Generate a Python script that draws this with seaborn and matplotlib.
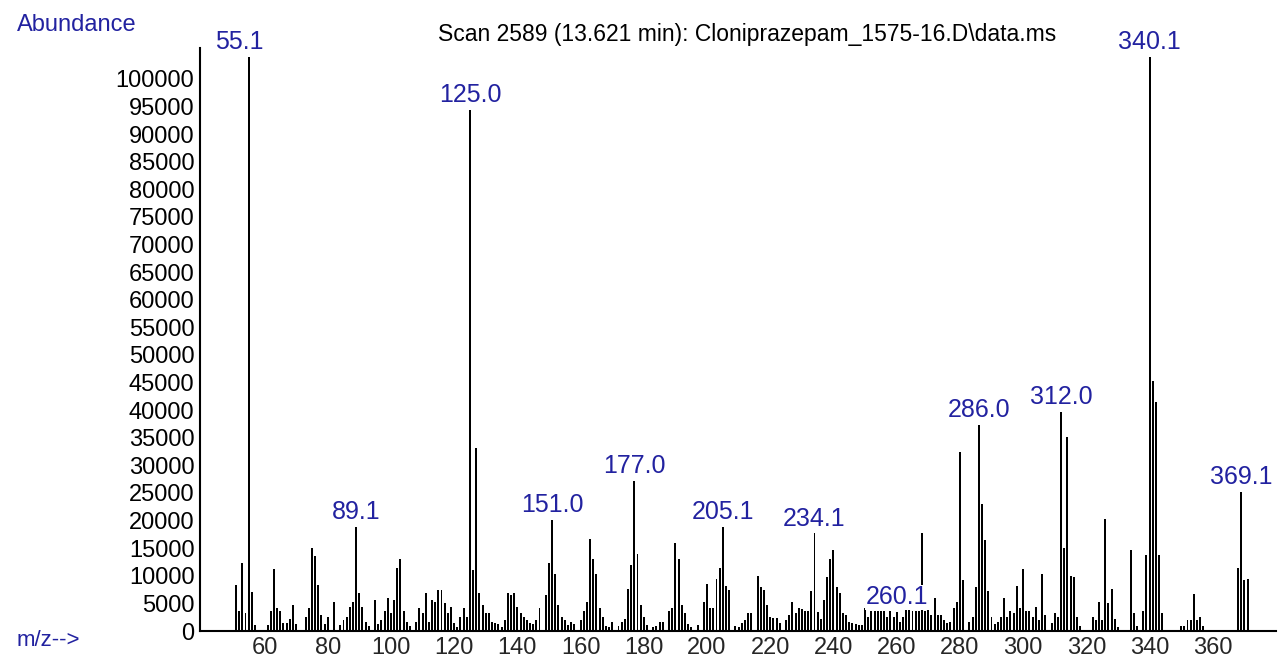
import matplotlib
matplotlib.use("Agg")
import matplotlib.pyplot as plt
import seaborn as sns
import pandas as pd

# m/z values and abundances
mz = [51, 52, 53, 54, 55, 56, 57, 61, 62, 63, 64, 65, 66, 67, 68, 69, 70, 73, 74, 75,
      76, 77, 78, 79, 80, 82, 84, 85, 86, 87, 88, 89, 90, 91, 92, 93, 95, 96, 97, 98,
      99, 100, 101, 102, 103, 104, 105, 106, 108, 109, 110, 111, 112, 113, 114, 115, 116, 117, 118, 119,
      120, 121, 122, 123, 124, 125, 126, 127, 128, 129, 130, 131, 132, 133, 134, 135, 136, 137, 138, 139,
      140, 141, 142, 143, 144, 145, 146, 147, 149, 150, 151, 152, 153, 154, 155, 156, 157, 158, 160, 161,
      162, 163, 164, 165, 166, 167, 168, 169, 170, 172, 173, 174, 175, 176, 177, 178, 179, 180, 181, 183,
      184, 185, 186, 188, 189, 190, 191, 192, 193, 194, 195, 197, 199, 200, 201, 202, 203, 204, 205, 206,
      207, 209, 210, 211, 212, 213, 214, 216, 217, 218, 219, 220, 221, 222, 223, 225, 226, 227, 228, 229,
      230, 231, 232, 233, 234, 235, 236, 237, 238, 239, 240, 241, 242, 243, 244, 245, 246, 247, 248, 249,
      250, 251, 252, 253, 254, 255, 256, 257, 258, 259, 260, 261, 262, 263, 264, 265, 266, 267, 268, 269,
      270, 271, 272, 273, 274, 275, 276, 277, 278, 279, 280, 281, 283, 284, 285, 286, 287, 288, 289, 290,
      291, 292, 293, 294, 295, 296, 297, 298, 299, 300, 301, 302, 303, 304, 305, 306, 307, 309, 310, 311,
      312, 313, 314, 315, 316, 317, 318, 322, 323, 324, 325, 326, 327, 328, 329, 330, 334, 335, 336, 338,
      339, 340, 341, 342, 343, 344, 350, 351, 352, 353, 354, 355, 356, 357, 368, 369, 370, 371]
abundance = [8300, 3600, 12300, 3200, 104000, 7100, 1000, 1000, 3700, 11200, 4100, 3600, 1400, 1400, 2100, 4800, 1300, 2500, 4100, 15000,
             13500, 8300, 2900, 1300, 2500, 5200, 1000, 2000, 2500, 4400, 5200, 18900, 6800, 4400, 1700, 900, 5600, 1300, 2000, 3700,
             5900, 3200, 5600, 11500, 13000, 3600, 1700, 900, 1700, 4100, 3200, 6800, 1700, 5600, 5300, 7500, 7400, 5000, 3200, 4400,
             1400, 800, 2500, 4100, 2600, 94400, 11000, 33200, 6800, 4700, 3200, 3200, 1700, 1400, 1300, 800, 2000, 6800, 6500, 6800,
             4400, 3200, 2500, 2000, 1400, 1300, 2000, 4100, 6500, 12400, 20100, 10300, 4700, 2600, 2000, 1100, 1700, 1300, 2000, 3600,
             5200, 16600, 13000, 10300, 4100, 2600, 900, 800, 1600, 900, 1700, 2100, 7600, 12000, 27200, 13900, 4800, 2600, 1000, 800,
             900, 1600, 1700, 3700, 4100, 15900, 13000, 4800, 3200, 1300, 700, 1100, 5200, 8500, 4100, 4100, 9500, 11500, 18900, 8100,
             7400, 900, 700, 1400, 2000, 3200, 3200, 10000, 8000, 7400, 4700, 2600, 2300, 2300, 1400, 2000, 2900, 5200, 3200, 4100,
             4000, 3700, 3600, 7200, 17700, 3500, 2100, 5600, 9800, 13000, 14700, 8000, 6800, 3200, 2900, 1700, 1400, 1300, 1000, 1000,
             4100, 2600, 3600, 3600, 3600, 3600, 3600, 2600, 3600, 2600, 3400, 1700, 2600, 3800, 3800, 3600, 3600, 3600, 17800, 3600,
             7500, 2900, 5900, 2900, 2900, 2000, 1400, 1700, 4100, 5200, 32400, 9200, 1700, 2600, 8000, 37300, 23000, 16500, 7200, 2600,
             1300, 1700, 2600, 5900, 2600, 3600, 3200, 8100, 4200, 11300, 3600, 3600, 2600, 4400, 2000, 10300, 2900, 1400, 3200, 2500,
             39700, 15100, 35200, 10000, 9700, 2500, 900, 2600, 2000, 5300, 2000, 20200, 5100, 7600, 2100, 700, 14700, 3200, 900, 3700,
             13800, 104000, 45300, 41400, 13800, 3200, 900, 900, 2000, 2000, 6700, 2000, 2500, 900, 11500, 25200, 9200, 9500]

peak_mz = [55, 89, 125, 151, 177, 205, 234, 260, 286, 312, 340, 369]
peak_text = ["55.1", "89.1", "125.0", "151.0", "177.0", "205.1", "234.1", "260.1", "286.0", "312.0", "340.1", "369.1"]

title = "Scan 2589 (13.621 min): Cloniprazepam_1575-16.D\\data.ms"
blue = "#2222a0"

df = pd.DataFrame({"mz": mz, "abundance": abundance})

sns.set_theme(style="white")
plt.rcParams["font.family"] = ["Liberation Sans", "DejaVu Sans"]

fig = plt.figure(figsize=(12.78, 6.58), dpi=100)
ax = fig.add_axes([200 / 1278, 27 / 658, 1076 / 1278, 583 / 658])

sns.histplot(data=df, x="mz", weights="abundance", discrete=True, shrink=0.62,
             color="black", alpha=1, linewidth=0, antialiased=False, ax=ax)

ax.set_xlim(39.6, 380)
ax.set_ylim(0, 105600)

# peak labels (white box, like the instrument software)
heights = dict(zip(mz, abundance))
for m, txt in zip(peak_mz, peak_text):
    dx = -7 if m == 55 else 0
    ax.annotate(txt, (m, heights[m]), xytext=(dx, 2), textcoords="offset points",
                ha="center", va="bottom", color=blue, fontsize=18,
                bbox=dict(fc="white", ec="none", pad=0.5), zorder=5)

ax.set_yticks(range(0, 100001, 5000))
ax.set_yticklabels([str(v) for v in range(0, 100001, 5000)])
ax.set_xticks(range(60, 361, 20))
ax.set_xticks(range(44, 381, 4), minor=True)
ax.tick_params(axis="y", direction="out", length=3, width=1, pad=1, labelsize=17, colors="black")
ax.tick_params(axis="x", which="major", direction="out", length=3, width=1, pad=1.5, labelsize=17)
ax.tick_params(axis="x", which="minor", direction="out", length=2, width=1)
ax.set_xlabel("")
ax.set_ylabel("")

for s in ["top", "right"]:
    ax.spines[s].set_visible(False)
for s in ["left", "bottom"]:
    ax.spines[s].set_color("black")
    ax.spines[s].set_linewidth(1.5)

fig.text(17 / 1278, 1 - 25 / 658, "Abundance", color=blue, fontsize=17, ha="left", va="center")
fig.text(17 / 1278, 1 - 640 / 658, "m/z-->", color=blue, fontsize=16, ha="left", va="center")
fig.text(747 / 1278, 1 - 35 / 658, title, color="black", fontsize=16.5, ha="center", va="center")

fig.savefig("out.png", dpi=100, facecolor="white")
